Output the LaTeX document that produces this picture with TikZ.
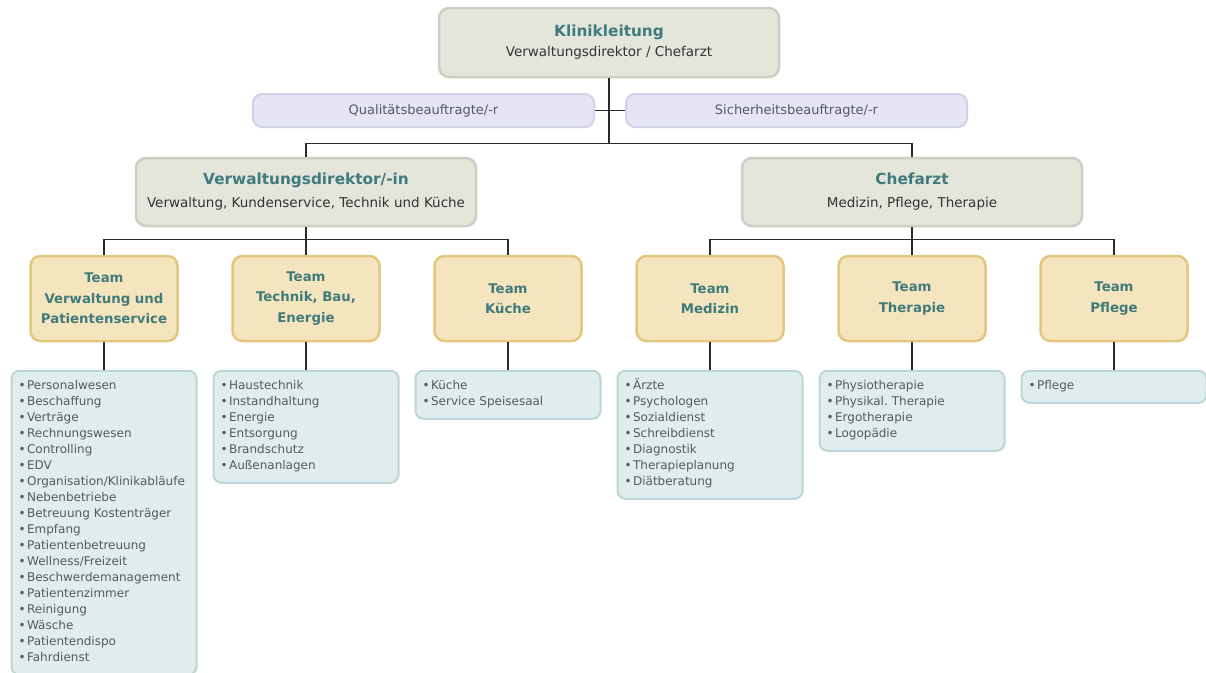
\documentclass[tikz,border=0pt]{standalone}
\usepackage{fontspec}
\setmainfont{DejaVu Sans}
\usetikzlibrary{positioning}

\definecolor{leadfill}{HTML}{E4E5DB}
\definecolor{leadline}{HTML}{CDCFC2}
\definecolor{stafffill}{HTML}{E5E5F4}
\definecolor{staffline}{HTML}{D2D2E9}
\definecolor{teamfill}{HTML}{F4E5BE}
\definecolor{teamline}{HTML}{E3C77C}
\definecolor{listfill}{HTML}{DFEDED}
\definecolor{listline}{HTML}{BDD5D4}
\definecolor{titleteal}{HTML}{3F7B7C}
\definecolor{subgray}{HTML}{333333}
\definecolor{itemgray}{HTML}{595959}
\definecolor{staffgray}{HTML}{56566E}
\definecolor{linegray}{HTML}{2A2A2A}

\newcommand{\titel}[1]{{\fontsize{15.3}{18}\selectfont\bfseries\color{titleteal}#1}}
\newcommand{\itm}{\strut\textbullet\hspace{1.5pt}}

\tikzset{
  leadbox/.style={rectangle, rounded corners=10pt, fill=leadfill, draw=leadline,
    line width=2.5pt, minimum width=340pt, minimum height=68pt, align=center,
    text=subgray, font=\fontsize{13.5}{20}\selectfont},
  staffbox/.style={rectangle, rounded corners=9pt, fill=stafffill, draw=staffline,
    line width=2pt, minimum width=341pt, minimum height=33pt,
    text=staffgray, font=\fontsize{13}{15}\selectfont},
  teambox/.style={rectangle, rounded corners=10pt, fill=teamfill, draw=teamline,
    line width=2.5pt, minimum width=147pt, minimum height=85pt, align=center,
    text=titleteal, font=\fontsize{13.3}{20.5}\selectfont\bfseries},
  listbox/.style={rectangle, rounded corners=8pt, fill=listfill, draw=listline,
    line width=2pt, text width=171pt, inner xsep=7pt, inner ysep=8pt, align=left,
    text=itemgray, font=\fontsize{12}{16}\selectfont},
  conn/.style={draw=linegray, line width=1.1pt}
}

\begin{document}
\begin{tikzpicture}[x=1pt, y=-1pt]
  % page frame
  \useasboundingbox (0,0) rectangle (1206,672);
  \clip (0,0) rectangle (1206,672);

  % Leitung
  \node[leadbox, minimum height=69pt] (kl) at (609,42.5)
    {\titel{Klinikleitung}\\Verwaltungsdirektor / Chefarzt};
  \node[staffbox] (qb) at (423.5,110.5) {Qualitätsbeauftragte/-r};
  \node[staffbox] (sb) at (796.5,110.5) {Sicherheitsbeauftragte/-r};

  % Direktoren
  \node[leadbox, font=\fontsize{13.5}{23}\selectfont] (vd) at (306,192)
    {\titel{Verwaltungsdirektor/-in}\\Verwaltung, Kundenservice, Technik und Küche};
  \node[leadbox, font=\fontsize{13.5}{23}\selectfont] (cf) at (912,192)
    {\titel{Chefarzt}\\Medizin, Pflege, Therapie};

  % Teams
  \node[teambox] (tvw) at (104,298.5) {Team\\Verwaltung und\\Patientenservice};
  \node[teambox, right=52.5pt of tvw] (ttb) {Team\\Technik, Bau,\\Energie};
  \node[teambox, right=52.5pt of ttb] (tkue) {Team\\Küche};
  \node[teambox, right=52.5pt of tkue] (tmed) {Team\\Medizin};
  \node[teambox, right=52.5pt of tmed] (tthe) {Team\\Therapie};
  \node[teambox, right=52.5pt of tthe] (tpfl) {Team\\Pflege};

  % Aufgaben
  \node[listbox, below=27.5pt of tvw] (lvw)
    {\itm Personalwesen\\ \itm Beschaffung\\ \itm Verträge\\ \itm Rechnungswesen\\
     \itm Controlling\\ \itm EDV\\ \itm Organisation/Klinikabläufe\\ \itm Nebenbetriebe\\
     \itm Betreuung Kostenträger\\ \itm Empfang\\ \itm Patientenbetreuung\\
     \itm Wellness/Freizeit\\ \itm Beschwerdemanagement\\ \itm Patientenzimmer\\
     \itm Reinigung\\ \itm Wäsche\\ \itm Patientendispo\\ \itm Fahrdienst};
  \node[listbox, below=27.5pt of ttb] (ltb)
    {\itm Haustechnik\\ \itm Instandhaltung\\ \itm Energie\\ \itm Entsorgung\\
     \itm Brandschutz\\ \itm Außenanlagen};
  \node[listbox, below=27.5pt of tkue] (lkue)
    {\itm Küche\\ \itm Service Speisesaal};
  \node[listbox, below=27.5pt of tmed] (lmed)
    {\itm Ärzte\\ \itm Psychologen\\ \itm Sozialdienst\\ \itm Schreibdienst\\
     \itm Diagnostik\\ \itm Therapieplanung\\ \itm Diätberatung};
  \node[listbox, below=27.5pt of tthe] (lthe)
    {\itm Physiotherapie\\ \itm Physikal.\ Therapie\\ \itm Ergotherapie\\ \itm Logopädie};
  \node[listbox, below=27.5pt of tpfl] (lpfl)
    {\itm Pflege};

  % Verbindungen
  \coordinate (kbar) at ([yshift=-65pt]kl.south);
  \coordinate (vbar) at ([yshift=-12pt]vd.south);
  \coordinate (cbar) at ([yshift=-12pt]cf.south);
  \draw[conn] (kl) -- (kbar);
  \draw[conn] (qb) -- (sb);
  \draw[conn] (vd.north) |- (kbar) -| (cf.north);
  \draw[conn] (tvw.north) |- (vbar) -| (tkue.north);
  \draw[conn] (vd) -- (ttb);
  \draw[conn] (tmed.north) |- (cbar) -| (tpfl.north);
  \draw[conn] (cf) -- (tthe);
  \foreach \t/\l in {tvw/lvw, ttb/ltb, tkue/lkue, tmed/lmed, tthe/lthe, tpfl/lpfl}
    \draw[conn] (\t) -- (\l);
\end{tikzpicture}
\end{document}
